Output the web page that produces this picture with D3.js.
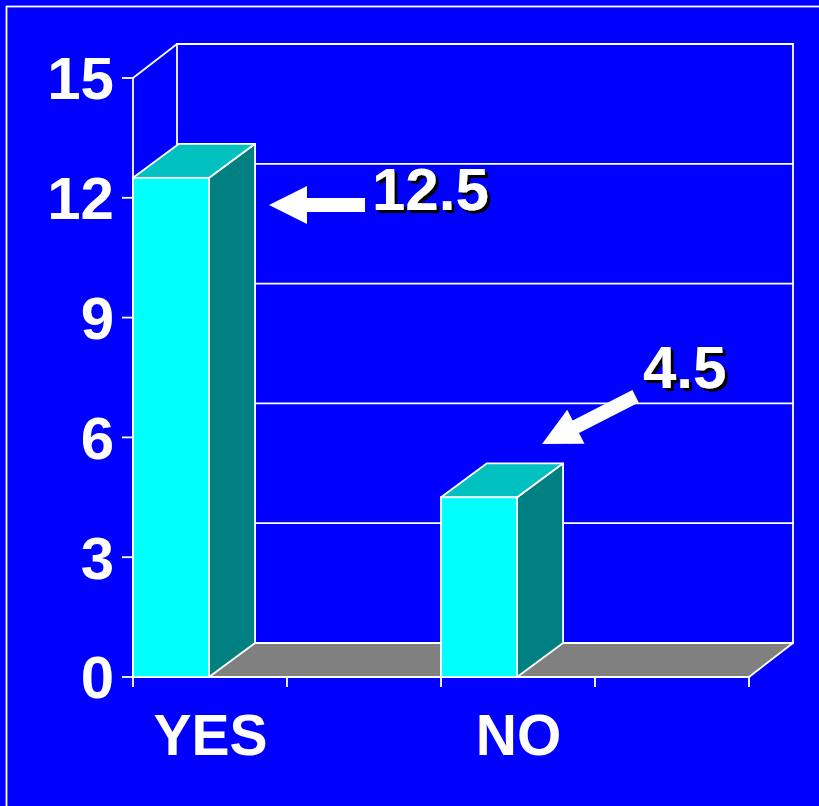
<!DOCTYPE html>
<html>
<head>
<meta charset="utf-8">
<script src="https://cdn.jsdelivr.net/npm/d3@7"></script>
<style>
html,body{margin:0;padding:0;background:#0000FF;overflow:hidden;}
svg{display:block;}
text{font-family:"Liberation Sans",Arial,sans-serif;font-weight:bold;fill:#fff;}
</style>
</head>
<body>
<svg id="chart" width="819" height="806"></svg>
<script>
const categories = ["YES", "NO"];
const values = [12.5, 4.5];
const yTicks = [0, 3, 6, 9, 12, 15];
const annotations = ["12.5", "4.5"];

const W = 819, H = 806;
const svg = d3.select("#chart");
const defs = svg.append("defs");
defs.append("filter").attr("id", "shadow").attr("x", "-10%").attr("y", "-10%").attr("width", "130%").attr("height", "130%")
  .append("feDropShadow").attr("dx", 3).attr("dy", 3).attr("stdDeviation", 0)
  .attr("flood-color", "#000").attr("flood-opacity", 1);

svg.append("rect").attr("width", W).attr("height", H).attr("fill", "#0000FF");
svg.append("rect").attr("x", 6.5).attr("y", 6.5).attr("width", 1000).attr("height", 1000)
  .attr("fill", "none").attr("stroke", "#fff").attr("stroke-width", 1.8);

const x0 = 133, x1 = 749, yBase = 677, yTop = 78;
const wdx = 44, wdy = 34;   // wall depth
const bdx = 46, bdy = 34;   // bar depth
const x = d3.scaleBand().domain(categories).range([x0, x1]).paddingInner(0).paddingOuter(0);
const y = d3.scaleLinear().domain([0, 15]).range([yBase, yTop]);
const bw = x.bandwidth() * 0.247;
const white = "#fff", sw = 1.8;
const pts = a => a.map(p => p.join(",")).join(" ");

const g = svg.append("g");
// back wall
g.append("polygon")
  .attr("points", pts([[x0 + wdx, y(15) - wdy], [x1 + wdx, y(15) - wdy], [x1 + wdx, y(0) - wdy], [x0 + wdx, y(0) - wdy]]))
  .attr("fill", "#0000FF").attr("stroke", white).attr("stroke-width", sw);
g.append("line").attr("x1", x0).attr("y1", y(15)).attr("x2", x0 + wdx).attr("y2", y(15) - wdy)
  .attr("stroke", white).attr("stroke-width", sw);

// gridlines on back wall
g.selectAll(".grid").data(yTicks.filter(t => t > 0 && t < 15)).join("line")
  .attr("x1", x0 + wdx).attr("x2", x1 + wdx)
  .attr("y1", d => y(d) - wdy).attr("y2", d => y(d) - wdy)
  .attr("stroke", white).attr("stroke-width", sw);

// floor
g.append("polygon")
  .attr("points", pts([[x0, y(0)], [x1, y(0)], [x1 + wdx, y(0) - wdy], [x0 + wdx, y(0) - wdy]]))
  .attr("fill", "#808080").attr("stroke", white).attr("stroke-width", sw).attr("stroke-linejoin", "round");

// y axis line
g.append("line").attr("x1", x0).attr("x2", x0).attr("y1", y(0)).attr("y2", y(15))
  .attr("stroke", white).attr("stroke-width", sw);

// y ticks
g.selectAll(".yt").data(yTicks).join("line")
  .attr("x1", x0 - 11).attr("x2", x0).attr("y1", d => y(d)).attr("y2", d => y(d))
  .attr("stroke", white).attr("stroke-width", sw);
g.selectAll(".yl").data(yTicks).join("text")
  .attr("x", 114).attr("y", d => y(d)).attr("dy", "0.355em")
  .attr("text-anchor", "end").attr("font-size", 60).text(d => d);

// x ticks at band edges and midpoints
const xTickPos = [];
categories.forEach(c => { xTickPos.push(x(c)); xTickPos.push(x(c) + x.bandwidth() / 2); });
xTickPos.push(x1);
g.selectAll(".xt").data(xTickPos).join("line")
  .attr("x1", d => d).attr("x2", d => d).attr("y1", y(0)).attr("y2", y(0) + 10)
  .attr("stroke", white).attr("stroke-width", sw);

// category labels
g.selectAll(".xl").data(categories).join("text")
  .attr("x", d => x(d) + x.bandwidth() / 4 + 0.5).attr("y", 755)
  .attr("text-anchor", "middle").attr("font-size", 57).text(d => d);

// bars
const bars = g.selectAll(".bar").data(categories.map((c, i) => ({ c, v: values[i] }))).join("g");
bars.append("polygon") // side
  .attr("points", d => {
    const xl = x(d.c) + bw, yt = y(d.v), yb = y(0);
    return pts([[xl, yb], [xl + bdx, yb - bdy], [xl + bdx, yt - bdy], [xl, yt]]);
  })
  .attr("fill", "#008080").attr("stroke", white).attr("stroke-width", sw).attr("stroke-linejoin", "round");
bars.append("polygon") // top
  .attr("points", d => {
    const xl = x(d.c), yt = y(d.v);
    return pts([[xl, yt], [xl + bw, yt], [xl + bw + bdx, yt - bdy], [xl + bdx, yt - bdy]]);
  })
  .attr("fill", "#00C0C0").attr("stroke", white).attr("stroke-width", sw).attr("stroke-linejoin", "round");
bars.append("rect") // front
  .attr("x", d => x(d.c)).attr("y", d => y(d.v)).attr("width", bw).attr("height", d => y(0) - y(d.v))
  .attr("fill", "#00FFFF").attr("stroke", white).attr("stroke-width", sw);

// arrows
const arrows = [
  { tip: [269, 205], angle: 0, len: 96 },
  { tip: [542, 444], angle: -27, len: 105 }
];
g.selectAll(".arrow").data(arrows).join("polygon")
  .attr("points", d => pts([[0, 0], [38, -19], [38, -7], [d.len, -7], [d.len, 7], [38, 7], [38, 19]]))
  .attr("transform", d => `translate(${d.tip[0]},${d.tip[1]}) rotate(${d.angle})`)
  .attr("fill", white);

// annotation labels with shadow
const annPos = [[372, 210], [643, 388]];
g.selectAll(".ann").data(annotations).join("text")
  .attr("x", (d, i) => annPos[i][0]).attr("y", (d, i) => annPos[i][1])
  .attr("font-size", 60).attr("filter", "url(#shadow)").text(d => d);
</script>
</body>
</html>
